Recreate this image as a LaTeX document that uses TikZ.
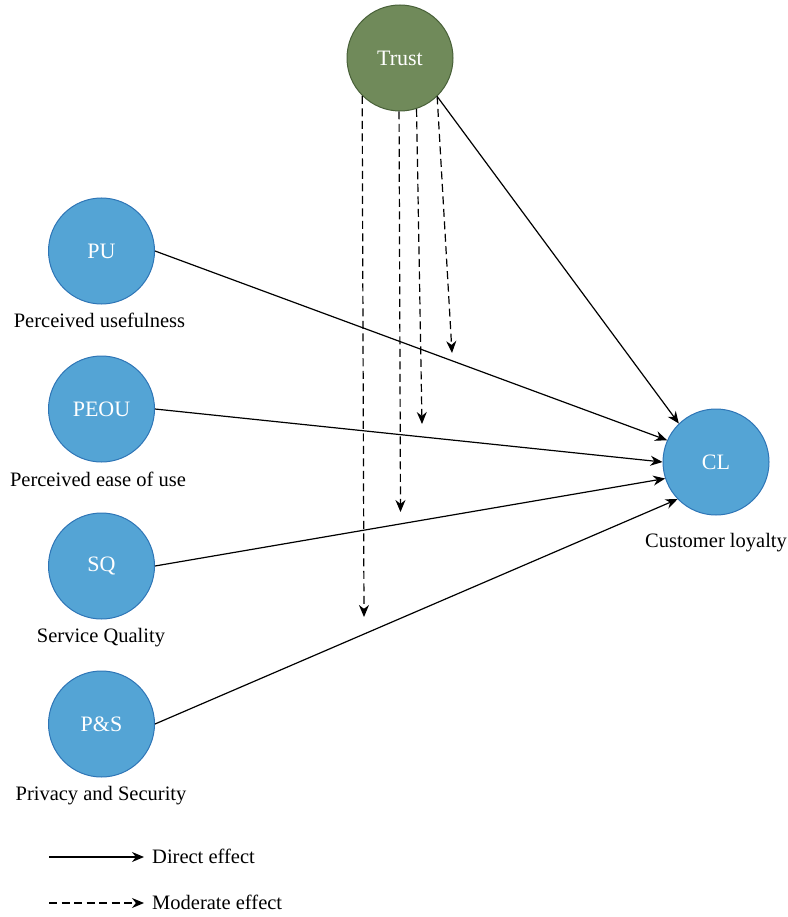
\documentclass[tikz,border=0pt]{standalone}
\usepackage{fontspec}
\setmainfont{Liberation Serif}
\usetikzlibrary{arrows.meta}
\definecolor{blobblue}{RGB}{84,164,213}
\definecolor{blobblueedge}{RGB}{46,117,182}
\definecolor{trustgreen}{RGB}{112,138,90}
\definecolor{trustedge}{RGB}{72,96,56}
\tikzset{
  blob/.style={circle, minimum size=106pt, inner sep=0pt, fill=blobblue, draw=blobblueedge, line width=1pt, text=white, font=\fontsize{22}{26}\selectfont},
  trustblob/.style={blob, fill=trustgreen, draw=trustedge},
  lbl/.style={anchor=base, inner sep=0pt, font=\fontsize{20.5}{24}\selectfont},
  direct/.style={line width=1.2pt, -{Stealth[length=12pt,width=10pt]}},
  moderate/.style={direct, dash pattern=on 8pt off 4.5pt}
}
\begin{document}
\begin{tikzpicture}[x=1pt,y=-1pt]
\useasboundingbox (0,0) rectangle (787,917);
% nodes
\node[trustblob] (T) at (400,58) {Trust};
\node[blob] (PU) at (101.5,251) {PU};
\node[blob] (PEOU) at (101.5,409) {PEOU};
\node[blob] (SQ) at (101.5,566) {SQ};
\node[blob] (PS) at (101.5,724) {P\&S};
\node[blob] (CL) at (716,462) {CL};
% labels
\node[lbl] (lPU) at (99.5,327) {Perceived usefulness};
\node[lbl] (lPEOU) at (98,486) {Perceived ease of use};
\node[lbl] (lSQ) at (101,642) {Service Quality};
\node[lbl] (lPS) at (101,800) {Privacy and Security};
\node[lbl] (lCL) at (716,547) {Customer loyalty};
% direct effects
\draw[direct] (PU.east) -- (CL.156);
\draw[direct] (PEOU.east) -- (CL.180);
\draw[direct] (SQ.east) -- (CL.198);
\draw[direct] (PS.east) -- (CL.224);
\draw[direct] (T.314) -- (CL.134);
% moderating effects
\coordinate (m1) at (364,617);
\coordinate (m2) at (400.5,512);
\coordinate (m3) at (422,424);
\coordinate (m4) at (452,353);
\draw[moderate] (T.225.8) -- (m1);
\draw[moderate] (T.269.5) -- (m2);
\draw[moderate] (T.288.7) -- (m3);
\draw[moderate] (T.314.2) -- (m4);
% legend
\coordinate (d1) at (49,857);
\coordinate (d2) at (144,857);
\coordinate (e1) at (49,903);
\coordinate (e2) at (144,903);
\draw[direct] (d1) -- (d2);
\draw[moderate] (e1) -- (e2);
\node[lbl, anchor=base west] (ld) at (152,863) {Direct effect};
\node[lbl, anchor=base west] (le) at (152,909) {Moderate effect};
\end{tikzpicture}
\end{document}
